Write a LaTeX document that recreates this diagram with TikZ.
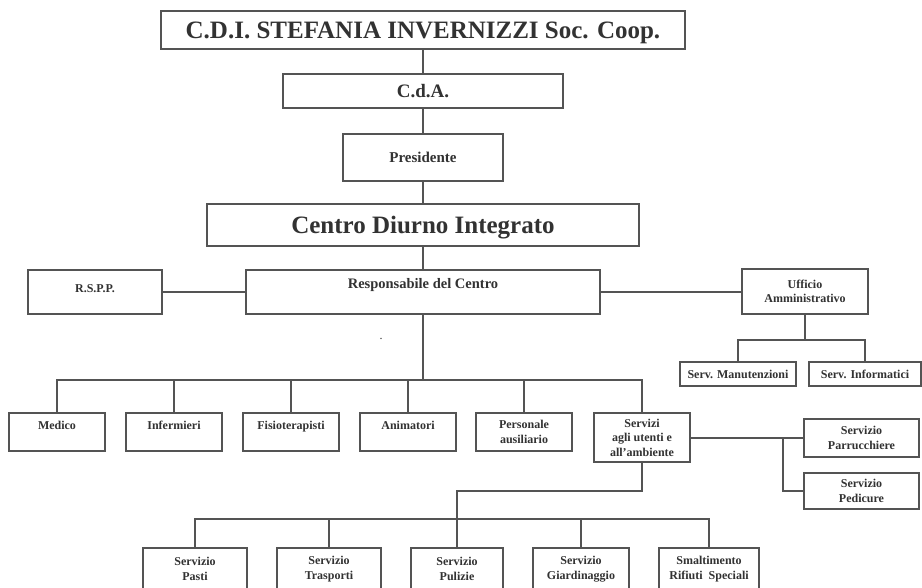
\documentclass[tikz,border=0pt]{standalone}
\usepackage{fontspec}
\setmainfont{Liberation Serif}
\definecolor{linec}{RGB}{84,84,84}
\definecolor{textc}{RGB}{50,50,50}
\begin{document}
\begin{tikzpicture}[x=1pt,y=-1pt,
  box/.style={draw=linec, line width=2pt, fill=white, inner sep=0pt, align=center, text=textc, font=\bfseries\fontsize{12}{14.5}\selectfont},
  link/.style={draw=linec, line width=2pt, line cap=rect},
  one/.style={text height=8pt, text depth=0pt},
  topone/.style={text height=8pt, text depth=14pt},
  rowone/.style={box, minimum width=96pt, minimum height=38pt},
  rowtwo/.style={box, minimum height=42pt},
  side/.style={box, minimum width=115pt}]

\useasboundingbox (0,0) rectangle (922,587);
\clip (0,0) rectangle (922,587);

% top chain
\node[box, minimum width=524pt, minimum height=38pt, font=\bfseries\fontsize{25}{30}\selectfont, text height=16.5pt, text depth=0pt] (top) at (423,30) {C.D.I. STEFANIA INVERNIZZI Soc. Coop.};
\node[box, minimum width=280pt, minimum height=34pt, font=\bfseries\fontsize{19}{23}\selectfont, text height=12.6pt, text depth=0pt] (cda) at (423,91) {C.d.A.};
\node[box, minimum width=160pt, minimum height=47pt, font=\bfseries\fontsize{15}{18}\selectfont, text height=10pt, text depth=0pt] (pres) at (423,157.5) {Presidente};
\node[box, minimum width=432pt, minimum height=42pt, font=\bfseries\fontsize{25}{30}\selectfont, text height=16.5pt, text depth=0pt] (cdi) at (423,225) {Centro Diurno Integrato};
\node[box, minimum width=354pt, minimum height=44pt, font=\bfseries\fontsize{14.5}{17}\selectfont, text height=9.6pt, text depth=16pt] (resp) at (423,292) {Responsabile del Centro};
\node[box, minimum width=134pt, minimum height=44pt, text height=8pt, text depth=8pt] (rspp) at (95,292) {R.S.P.P.};
\node[box, minimum width=126pt, minimum height=45pt] (uff) at (805,291.5) {Ufficio\\Amministrativo};
\node[box, minimum width=116pt, minimum height=24pt, one] (manut) at (738,374) {Serv. Manutenzioni};
\node[box, minimum width=112pt, minimum height=24pt, one] (info) at (865,374) {Serv. Informatici};

% first row
\node[rowone, topone] (medico) at (57,432) {Medico};
\node[rowone, topone] (inferm) at (174,432) {Infermieri};
\node[rowone, topone] (fisio) at (291,432) {Fisioterapisti};
\node[rowone, topone] (anim) at (408,432) {Animatori};
\node[rowone] (pers) at (524,432) {Personale\\ausiliario};
\node[box, minimum width=96pt, minimum height=49pt] (serv) at (642,437.5) {Servizi\\agli utenti e\\all’ambiente};

% side services
\node[side, minimum height=38pt] (parr) at (861.5,438) {Servizio\\Parrucchiere};
\node[side, minimum height=36pt] (pedi) at (861.5,491) {Servizio\\Pedicure};

% second row
\node[rowtwo, minimum width=104pt] (pasti) at (195,569) {Servizio\\Pasti};
\node[rowtwo, minimum width=104pt] (trasp) at (329,569) {Servizio\\Trasporti};
\node[rowtwo, minimum width=92pt] (pul) at (457,569) {Servizio\\Pulizie};
\node[rowtwo, minimum width=96pt] (giard) at (581,569) {Servizio\\Giardinaggio};
\node[rowtwo, minimum width=100pt] (smalt) at (709,569) {Smaltimento\\Rifiuti\ \ Speciali};

\node[text=textc, font=\fontsize{12}{14}\selectfont, inner sep=0pt] (dot) at (381,339) {.};

% connectors
\draw[link] (top.south) -- (top.south |- cda.north);
\draw[link] (cda.south) -- (cda.south |- pres.north);
\draw[link] (pres.south) -- (pres.south |- cdi.north);
\draw[link] (cdi.south) -- (cdi.south |- resp.north);
\draw[link] (rspp.east) -- (rspp.east -| resp.west);
\draw[link] (resp.east) -- (resp.east -| uff.west);

\coordinate (ubus) at (805,340);
\draw[link] (uff.south) -- (uff.south |- ubus);
\draw[link] (manut.north) |- (ubus) -| (info.north);

\coordinate (bus1) at (423,380);
\draw[link] (resp.south) -- (resp.south |- bus1);
\draw[link] (medico.north |- bus1) -- (serv.north |- bus1);
\foreach \n in {medico,inferm,fisio,anim,pers,serv}
  \draw[link] (\n.north |- bus1) -- (\n.north);

\draw[link] (serv.east |- parr.west) -- (parr.west);
\coordinate (fork) at (783,438);
\draw[link] (fork) |- (pedi.west);

\coordinate (jog) at (457,491);
\coordinate (bus3) at (457,519);
\draw[link] (serv.south) |- (jog) -- (bus3);
\draw[link] (pasti.north |- bus3) -- (smalt.north |- bus3);
\foreach \n in {pasti,trasp,pul,giard,smalt}
  \draw[link] (\n.north |- bus3) -- (\n.north);
\end{tikzpicture}
\end{document}
